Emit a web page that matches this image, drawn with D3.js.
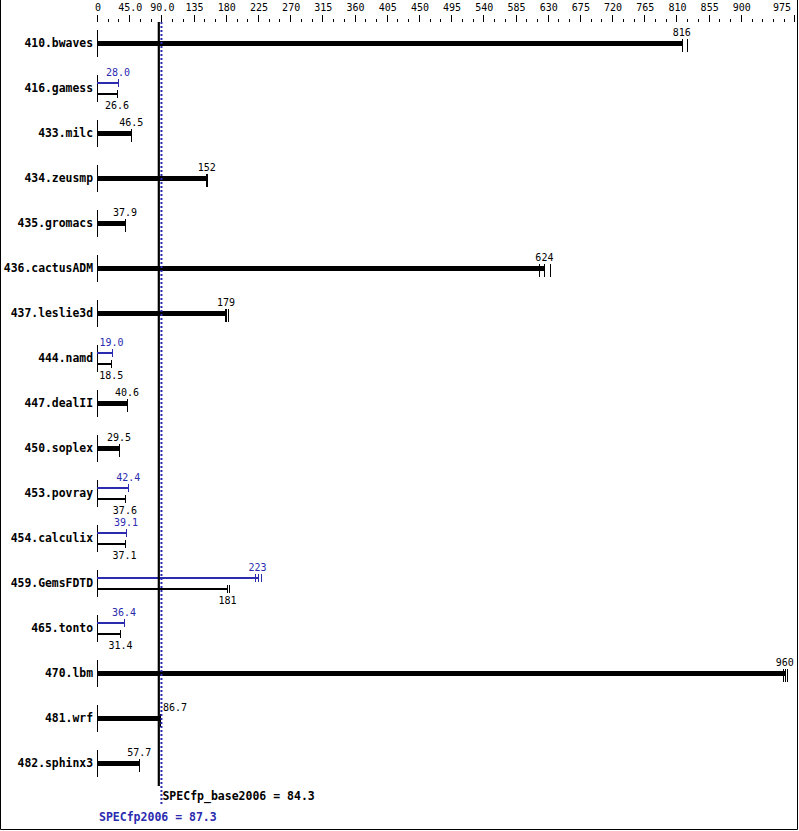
<!DOCTYPE html>
<html>
<head>
<meta charset="utf-8">
<script src="https://cdn.jsdelivr.net/npm/d3@7"></script>
<style>
  body { margin: 0; background: #fff; }
  svg { display: block; }
  text { font-family: "DejaVu Sans Mono", monospace; }
</style>
</head>
<body>
<svg width="799" height="831"></svg>
<script>
var benchmarks = ["410.bwaves", "416.gamess", "433.milc", "434.zeusmp", "435.gromacs",
    "436.cactusADM", "437.leslie3d", "444.namd", "447.dealII", "450.soplex", "453.povray",
    "454.calculix", "459.GemsFDTD", "465.tonto", "470.lbm", "481.wrf", "482.sphinx3"];

var baseValues = [816, 26.6, 46.5, 152, 37.9, 624, 179, 18.5, 40.6, 29.5, 37.6, 37.1, 181, 31.4, 960, 86.7, 57.7];
var peakValues = [816, 28.0, 46.5, 152, 37.9, 624, 179, 19.0, 40.6, 29.5, 42.4, 39.1, 223, 36.4, 960, 86.7, 57.7];

// individual run results (the little end marks)
var baseRuns = [[816, 816, 823], [26.6], [46.5], [151, 152, 152], [37.9], [616, 624, 632],
    [177, 179, 182], [18.5], [40.6], [29.5], [37.6], [37.1], [181, 181, 183], [31.4],
    [958, 960, 963], [86.7], [57.7]];
var peakRuns = [[816, 816, 823], [28.0], [46.5], [151, 152, 152], [37.9], [616, 624, 632],
    [177, 179, 182], [19.0], [40.6], [29.5], [42.4], [39.1], [219, 223, 228], [36.4],
    [958, 960, 963], [86.7], [57.7]];

var tickValues = [0, 45, 90, 135, 180, 225, 270, 315, 360, 405, 450, 495, 540, 585, 630,
    675, 720, 765, 810, 855, 900, 975];
var tickLabels = ["0", "45.0", "90.0", "135", "180", "225", "270", "315", "360", "405", "450",
    "495", "540", "585", "630", "675", "720", "765", "810", "855", "900", "975"];

var baseScore = 84.3, peakScore = 87.3;
var baseName = "SPECfp_base2006", peakName = "SPECfp2006";

var blue = "#2b2bb0";

var svg = d3.select("svg");

var x = d3.scaleLinear().domain([0, 975]).range([98, 795.5]);
var y = d3.scalePoint().domain(benchmarks).range([43, 763]);

var fmt = function(v) { return v >= 100 ? d3.format(".0f")(v) : d3.format(".1f")(v); };
var xc = function(v) { return Math.min(x(v), 795); };

// frame
svg.append("path")
    .attr("d", "M0.5,0 V829.5 H797.5 V0")
    .attr("fill", "none")
    .attr("stroke", "#000");

// top scale
var axis = svg.append("g").attr("shape-rendering", "crispEdges");
axis.selectAll(".minor")
    .data(d3.range(0, 976, 15))
    .enter().append("line")
    .attr("x1", function(d) { return Math.round(xc(d)) - 0.5; })
    .attr("x2", function(d) { return Math.round(xc(d)) - 0.5; })
    .attr("y1", function(d) { return tickValues.indexOf(d) >= 0 ? 15 : 19; })
    .attr("y2", 22)
    .attr("stroke", "#000");

axis.selectAll(".lbl")
    .data(tickValues)
    .enter().append("text")
    .attr("x", function(d, i) { return i == tickValues.length - 1 ? 791 : x(d); })
    .attr("y", 11)
    .attr("text-anchor", function(d, i) { return i == tickValues.length - 1 ? "end" : "middle"; })
    .attr("font-size", "10px")
    .text(function(d, i) { return tickLabels[i]; });

var row = svg.selectAll(".row")
    .data(benchmarks)
    .enter().append("g")
    .attr("class", "row")
    .attr("shape-rendering", "crispEdges");

row.append("text")
    .attr("x", 93)
    .attr("y", function(d) { return y(d) + 4; })
    .attr("text-anchor", "end")
    .attr("font-size", "11.4px")
    .attr("font-weight", "bold")
    .text(function(d) { return d; });

row.append("line")
    .attr("x1", Math.round(x(0)) - 0.5)
    .attr("x2", Math.round(x(0)) - 0.5)
    .attr("y1", function(d) { return y(d) - 13; })
    .attr("y2", function(d) { return y(d) + 14; })
    .attr("stroke", "#000");

row.each(function(name, i) {
    var g = d3.select(this);
    var cy = y(name);
    var b = baseValues[i], p = peakValues[i];

    function labelAt(v, ly, color) {
        var near = Math.abs(v - baseScore) < 10;
        g.append("text")
            .attr("x", near ? x(v) + 3 : x(v))
            .attr("y", ly)
            .attr("text-anchor", near ? "start" : "middle")
            .attr("font-size", "10px")
            .attr("fill", color)
            .text(fmt(v));
    }

    if (b == p) {
        g.append("rect")
            .attr("x", x(0) - 1)
            .attr("y", cy - 2)
            .attr("width", x(b) - x(0) + 1)
            .attr("height", 5)
            .attr("fill", "#000");
        g.selectAll(".run")
            .data(baseRuns[i])
            .enter().append("line")
            .attr("x1", function(d) { return Math.round(x(d)) + 0.5; })
            .attr("x2", function(d) { return Math.round(x(d)) + 0.5; })
            .attr("y1", cy - 4)
            .attr("y2", cy + 9)
            .attr("stroke", "#000")
            .attr("stroke-width", 1.5);
        labelAt(b, cy - 7, "#000");
    } else {
        var sets = [
            { v: p, runs: peakRuns[i], yy: cy - 5, color: blue, ly: cy - 12 },
            { v: b, runs: baseRuns[i], yy: cy + 6, color: "#000", ly: cy + 21 }
        ];
        sets.forEach(function(s) {
            g.append("rect")
                .attr("x", x(0) - 1)
                .attr("y", s.yy - 1)
                .attr("width", x(s.v) - x(0) + 1)
                .attr("height", 2)
                .attr("fill", s.color);
            g.selectAll(null)
                .data(s.runs)
                .enter().append("line")
                .attr("x1", function(d) { return Math.round(x(d)) + 0.5; })
                .attr("x2", function(d) { return Math.round(x(d)) + 0.5; })
                .attr("y1", s.yy - 4)
                .attr("y2", s.yy + 4)
                .attr("stroke", s.color)
                .attr("stroke-width", 1.5);
            labelAt(s.v, s.ly, s.color);
        });
    }
});

// overall score lines
svg.append("line")
    .attr("x1", x(baseScore) + 0.5).attr("x2", x(baseScore) + 0.5)
    .attr("y1", 22).attr("y2", 786)
    .attr("stroke", "#000")
    .attr("stroke-width", 2.2);

svg.append("line")
    .attr("x1", x(peakScore) + 1).attr("x2", x(peakScore) + 1)
    .attr("y1", 22).attr("y2", 806)
    .attr("stroke", blue)
    .attr("stroke-width", 2)
    .attr("stroke-dasharray", "2,2");

svg.append("text")
    .attr("x", x(peakScore) + 2)
    .attr("y", 800)
    .attr("font-size", "11.5px")
    .attr("font-weight", "bold")
    .text(baseName + " = " + baseScore.toFixed(1));

svg.append("text")
    .attr("x", 99)
    .attr("y", 821)
    .attr("font-size", "11.5px")
    .attr("font-weight", "bold")
    .attr("fill", blue)
    .text(peakName + " = " + peakScore.toFixed(1));
</script>
</body>
</html>
